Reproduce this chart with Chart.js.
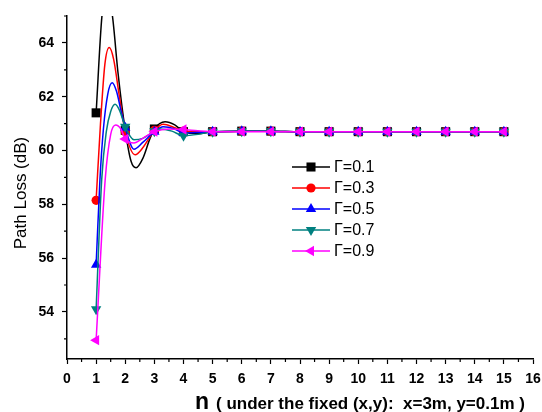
<!DOCTYPE html>
<html>
<head>
<meta charset="utf-8">
<script src="https://cdn.jsdelivr.net/npm/chart.js@4.4.1/dist/chart.umd.min.js"></script>
<style>
  html, body { margin: 0; padding: 0; background: #fff; }
  #wrap { width: 542px; height: 412px; }
</style>
</head>
<body>
<div id="wrap"><canvas id="myChart" width="542" height="412"></canvas></div>
<script>
// n values where markers sit
var nInt = [1, 2, 3, 4, 5, 6, 7, 8, 9, 10, 11, 12, 13, 14, 15]

// values at the markers
var g01 = [61.4, 60.75, 60.8, 60.7, 60.7, 60.72, 60.72, 60.7, 60.7, 60.7, 60.7, 60.7, 60.7, 60.7, 60.7]
var g03 = [58.15, 60.7, 60.75, 60.72, 60.7, 60.72, 60.72, 60.7, 60.7, 60.7, 60.7, 60.7, 60.7, 60.7, 60.7]
var g05 = [55.75, 60.85, 60.7, 60.65, 60.7, 60.72, 60.72, 60.7, 60.7, 60.7, 60.7, 60.7, 60.7, 60.7, 60.7]
var g07 = [54.1, 60.88, 60.72, 60.55, 60.7, 60.72, 60.72, 60.7, 60.7, 60.7, 60.7, 60.7, 60.7, 60.7, 60.7]
var g09 = [52.95, 60.43, 60.7, 60.78, 60.7, 60.7, 60.7, 60.7, 60.7, 60.7, 60.7, 60.7, 60.7, 60.7, 60.7]

// extra points read along the curves between markers
var g01MidN = [1.2, 1.38, 1.56, 1.75, 2.2, 2.37, 2.6, 2.85, 3.37, 3.7, 4.5]
var g01MidV = [65.0, 65.9, 65.0, 62.9, 59.6, 59.36, 59.7, 60.45, 61.07, 60.95, 60.62]
var g03MidN = [1.15, 1.3, 1.45, 1.6, 1.8, 2.34, 2.6, 2.9, 3.3, 3.7]
var g03MidV = [61.0, 63.2, 63.83, 63.4, 62.0, 59.84, 60.1, 60.6, 60.98, 60.85]
var g05MidN = [1.13, 1.25, 1.4, 1.55, 1.7, 1.85, 2.3, 2.6, 3.3, 3.7]
var g05MidV = [58.9, 60.8, 62.1, 62.52, 62.2, 61.5, 60.05, 60.3, 60.88, 60.8]
var g07MidN = [1.19, 1.35, 1.5, 1.65, 1.8, 2.3, 2.6, 3.2, 3.6, 4.5]
var g07MidV = [58.9, 60.7, 61.45, 61.72, 61.5, 60.4, 60.45, 60.8, 60.72, 60.6]
var g09MidN = [1.31, 1.5, 1.67, 1.85, 2.3, 2.6, 3.5]
var g09MidV = [58.9, 60.6, 60.95, 60.8, 60.28, 60.45, 60.8]

var labels = ['Γ=0.1', 'Γ=0.3', 'Γ=0.5', 'Γ=0.7', 'Γ=0.9']
var colors = ['#000000', '#ff0000', '#0000ff', '#008080', '#ff00ff']
var yTicks = [54, 56, 58, 60, 62, 64]

function makePoints(vals, midN, midV) {
  var pts = []
  for (var i = 0; i < nInt.length; i++) pts.push({x: nInt[i], y: vals[i]})
  for (var j = 0; j < midN.length; j++) pts.push({x: midN[j], y: midV[j]})
  pts.sort(function(a, b){ return a.x - b.x })
  return pts
}

var markerR = function(r){
  return function(c){ return Number.isInteger(c.raw.x) ? r : 0 }
}

var styles = [
  {pointStyle: 'rect', r: 6.4, rot: 0},
  {pointStyle: 'circle', r: 4.6, rot: 0},
  {pointStyle: 'triangle', r: 6, rot: 0},
  {pointStyle: 'triangle', r: 6, rot: 180},
  {pointStyle: 'triangle', r: 6, rot: -90}
]

var series = [
  makePoints(g01, g01MidN, g01MidV),
  makePoints(g03, g03MidN, g03MidV),
  makePoints(g05, g05MidN, g05MidV),
  makePoints(g07, g07MidN, g07MidV),
  makePoints(g09, g09MidN, g09MidV)
]

var datasets = series.map(function(pts, i){
  return {
    label: labels[i],
    data: pts,
    borderColor: colors[i],
    backgroundColor: colors[i],
    borderWidth: 1.5,
    cubicInterpolationMode: 'monotone',
    pointStyle: styles[i].pointStyle,
    pointRotation: styles[i].rot,
    pointRadius: markerR(styles[i].r),
    pointHoverRadius: 0,
    pointBorderWidth: 0,
    order: 4 - i
  }
})

// minor ticks, axis titles and the legend
var extras = {
  id: 'extras',
  afterDraw: function(chart){
    var c = chart.ctx
    var xs = chart.scales.x, ys = chart.scales.y
    var a = chart.chartArea
    c.save()
    c.strokeStyle = '#000'
    c.lineWidth = 1.2
    c.beginPath()
    for (var v = 0.5; v < 16; v += 1) {
      var px = xs.getPixelForValue(v)
      c.moveTo(px, a.bottom); c.lineTo(px, a.bottom + 3)
    }
    for (var w = 53; w <= 65; w += 2) {
      var py = ys.getPixelForValue(w)
      c.moveTo(a.left, py); c.lineTo(a.left - 3, py)
    }
    c.stroke()

    // y title
    c.fillStyle = '#000'
    c.save()
    c.translate(21, 193)
    c.rotate(-Math.PI / 2)
    c.font = '17px "Liberation Sans", Arial, sans-serif'
    c.textAlign = 'center'
    c.textBaseline = 'middle'
    c.fillText('Path Loss (dB)', 0, 0)
    c.restore()

    // x title
    c.textBaseline = 'alphabetic'
    c.textAlign = 'left'
    c.font = 'bold 23px "Liberation Sans", Arial, sans-serif'
    c.fillText('n', 195, 409)
    c.font = 'bold 17px "Liberation Sans", Arial, sans-serif'
    c.fillText('( under the fixed (x,y):  x=3m, y=0.1m )', 216, 409)

    // legend
    for (var i = 0; i < datasets.length; i++) {
      var ly = 167 + 21 * i
      c.strokeStyle = colors[i]
      c.lineWidth = 1.5
      c.beginPath(); c.moveTo(292, ly); c.lineTo(330, ly); c.stroke()
      c.fillStyle = colors[i]
      Chart.helpers.drawPoint(c, {pointStyle: styles[i].pointStyle, radius: styles[i].r, rotation: styles[i].rot, borderWidth: 0}, 311, ly)
      c.fillStyle = '#000'
      c.font = '16px "Liberation Sans", Arial, sans-serif'
      c.textBaseline = 'middle'
      c.fillText(labels[i], 334, ly + 1)
    }
    c.restore()
  }
}

var tickFont = {family: '"Liberation Sans", Arial, sans-serif', size: 14, weight: 'bold'}

new Chart(document.getElementById('myChart'), {
  type: 'line',
  data: { datasets: datasets },
  options: {
    responsive: false,
    animation: false,
    events: [],
    layout: { padding: {top: 16, right: 9, left: 0, bottom: 0} },
    plugins: { legend: {display: false}, tooltip: {enabled: false} },
    scales: {
      x: {
        type: 'linear',
        min: 0, max: 16,
        ticks: { stepSize: 1, color: '#000', font: tickFont, padding: 7, maxRotation: 0 },
        grid: { drawOnChartArea: false, tickLength: 5, tickColor: '#000', tickWidth: 1.2 },
        border: { color: '#000', width: 1.5 },
        afterFit: function(s){ s.height = 53; s.paddingLeft = 0; s.paddingRight = 0 }
      },
      y: {
        min: 52.25, max: 65,
        afterBuildTicks: function(s){ s.ticks = yTicks.map(function(v){ return {value: v} }) },
        ticks: { color: '#000', font: tickFont, padding: 8 },
        grid: { drawOnChartArea: false, tickLength: 5, tickColor: '#000', tickWidth: 1.2 },
        border: { color: '#000', width: 1.5 },
        afterFit: function(s){ s.width = 67; s.paddingTop = 0; s.paddingBottom = 0 }
      }
    }
  },
  plugins: [extras]
})
</script>
</body>
</html>
